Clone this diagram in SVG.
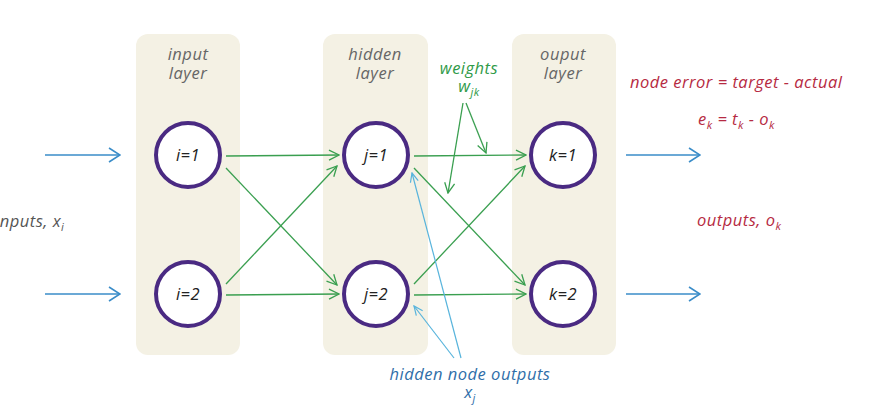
<svg xmlns="http://www.w3.org/2000/svg" width="883" height="416" viewBox="0 0 883 416">
<style>
text{font-family:"Open Sans",sans-serif;font-style:italic;font-size:16.5px;letter-spacing:0.5px}
.panel{fill:#f4f1e4}
.node{fill:#fff;stroke:#4a2a82;stroke-width:4}
.nt{fill:#222;text-anchor:middle}
.lt{fill:#666;text-anchor:middle}
.red{fill:#b62a42}
.grn{fill:#2f9a48;text-anchor:middle}
.blu{fill:#2f6ea8;text-anchor:middle}
.gray{fill:#555}
.sub{font-size:11px}
.g{stroke:#3a9f50;stroke-width:1.3;fill:none}
.b{stroke:#3a8cc8;stroke-width:1.6;fill:none}
.lb{stroke:#58b4dc;stroke-width:1.2;fill:none}
</style>
<defs>
<marker id="ag" markerWidth="12" markerHeight="12" refX="11" refY="6" orient="auto" markerUnits="userSpaceOnUse">
<path d="M1,1 L11,6 L1,11" fill="none" stroke="#3a9f50" stroke-width="1.3"/>
</marker>
<marker id="al" markerWidth="12" markerHeight="12" refX="11" refY="6" orient="auto" markerUnits="userSpaceOnUse">
<path d="M2,2 L11,6 L2,10" fill="none" stroke="#58b4dc" stroke-width="1.2"/>
</marker>
<marker id="ab" markerWidth="14" markerHeight="16" refX="13" refY="8" orient="auto" markerUnits="userSpaceOnUse">
<path d="M2,1 L13,8 L2,15" fill="none" stroke="#3a8cc8" stroke-width="1.6"/>
</marker>
</defs>
<g id="panel-input"><rect class="panel" x="136" y="34" width="104" height="321" rx="12"/>
<text class="lt" x="188" y="60">input</text><text class="lt" x="188" y="79">layer</text></g>
<g id="panel-hidden"><rect class="panel" x="323" y="34" width="105" height="321" rx="12"/>
<text class="lt" x="375" y="60">hidden</text><text class="lt" x="375" y="79">layer</text></g>
<g id="panel-output"><rect class="panel" x="512" y="34" width="104" height="321" rx="12"/>
<text class="lt" x="563" y="60">ouput</text><text class="lt" x="563" y="79">layer</text></g>
<g id="connectors">
<line class="b" x1="45" y1="155" x2="120" y2="155" marker-end="url(#ab)"/>
<line class="b" x1="45" y1="294" x2="120" y2="294" marker-end="url(#ab)"/>
<line class="b" x1="626" y1="155" x2="700" y2="155" marker-end="url(#ab)"/>
<line class="b" x1="626" y1="294" x2="700" y2="294" marker-end="url(#ab)"/>
<line class="g" x1="226" y1="156" x2="339" y2="155" marker-end="url(#ag)"/>
<line class="g" x1="226" y1="168" x2="337" y2="285" marker-end="url(#ag)"/>
<line class="g" x1="226" y1="284" x2="337" y2="166" marker-end="url(#ag)"/>
<line class="g" x1="226" y1="295" x2="339" y2="294" marker-end="url(#ag)"/>
<line class="g" x1="414" y1="156" x2="526" y2="155" marker-end="url(#ag)"/>
<line class="g" x1="414" y1="168" x2="525" y2="285" marker-end="url(#ag)"/>
<line class="g" x1="414" y1="284" x2="525" y2="166" marker-end="url(#ag)"/>
<line class="g" x1="414" y1="295" x2="526" y2="294" marker-end="url(#ag)"/>
<line class="g" x1="463" y1="103" x2="448" y2="193" marker-end="url(#ag)"/>
<line class="g" x1="466" y1="103" x2="486" y2="153" marker-end="url(#ag)"/>
<line class="lb" x1="461" y1="358" x2="412" y2="173" marker-end="url(#al)"/>
<line class="lb" x1="454" y1="358" x2="414" y2="306" marker-end="url(#al)"/>
</g>
<g id="node-i1"><circle class="node" cx="188" cy="155" r="32"/><text class="nt" x="188" y="161">i=1</text></g>
<g id="node-i2"><circle class="node" cx="188" cy="294" r="32"/><text class="nt" x="188" y="300">i=2</text></g>
<g id="node-j1"><circle class="node" cx="376" cy="155" r="32"/><text class="nt" x="376" y="161">j=1</text></g>
<g id="node-j2"><circle class="node" cx="376" cy="294" r="32"/><text class="nt" x="376" y="300">j=2</text></g>
<g id="node-k1"><circle class="node" cx="563" cy="155" r="32"/><text class="nt" x="563" y="161">k=1</text></g>
<g id="node-k2"><circle class="node" cx="563" cy="294" r="32"/><text class="nt" x="563" y="300">k=2</text></g>
<g id="labels">
<text class="gray" x="-5" y="227">inputs, x<tspan class="sub" dy="4">i</tspan></text>
<text class="grn" x="469" y="74">weights</text>
<text class="grn" x="469" y="92">w<tspan class="sub" dy="4">jk</tspan></text>
<text class="red" x="630" y="88">node error = target - actual</text>
<text class="red" x="698" y="125">e<tspan class="sub" dy="4">k</tspan><tspan dy="-4"> = t</tspan><tspan class="sub" dy="4">k</tspan><tspan dy="-4"> - o</tspan><tspan class="sub" dy="4">k</tspan></text>
<text class="red" x="697" y="226">outputs, o<tspan class="sub" dy="4">k</tspan></text>
<text class="blu" x="470" y="380">hidden node outputs</text>
<text class="blu" x="470" y="398">x<tspan class="sub" dy="4">j</tspan></text>
</g>
</svg>
